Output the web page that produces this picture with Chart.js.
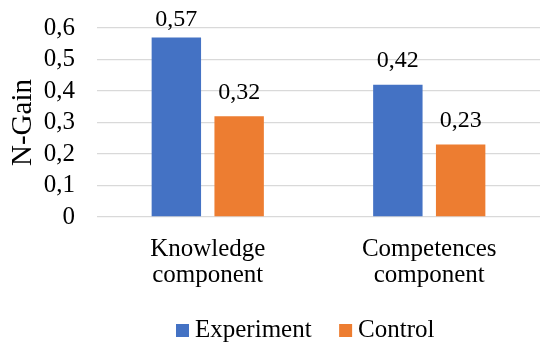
<!DOCTYPE html>
<html>
<head>
<meta charset="utf-8">
<script src="https://cdn.jsdelivr.net/npm/chart.js@4/dist/chart.umd.min.js"></script>
<style>
  html, body { margin: 0; padding: 0; background: #ffffff; }
  #wrap { width: 540px; height: 342px; }
</style>
</head>
<body>
<div id="wrap"><canvas id="c" width="540" height="342"></canvas></div>
<script>
// Categories and N-Gain values per group
const categories = [['Knowledge', 'component'], ['Competences', 'component']];
const seriesNames = ['Experiment', 'Control'];
const seriesColors = ['#4472C4', '#ED7D31'];
const experimentValues = [0.57, 0.42];
const controlValues = [0.32, 0.23];
const yTicks = [0, 0.1, 0.2, 0.3, 0.4, 0.5, 0.6];

const FONT = "'Liberation Serif', 'Times New Roman', serif";
const comma = v => String(Math.round(v * 100) / 100).replace('.', ',');

// Legend marker: a 13px square near the right end of a 40px transparent tile,
// so it sits just before the label text while items keep their spacing
function legendSquare(color) {
  const c = document.createElement('canvas');
  c.width = 40; c.height = 13;
  const g = c.getContext('2d');
  g.fillStyle = color;
  g.fillRect(26, 0, 13, 13);
  return c;
}

// Writes each bar's value above it, kept inside the top of the canvas
const valueLabels = {
  id: 'valueLabels',
  afterDatasetsDraw(chart) {
    const ctx = chart.ctx;
    ctx.save();
    ctx.font = '24px ' + FONT;
    ctx.fillStyle = '#000000';
    ctx.textAlign = 'center';
    ctx.textBaseline = 'alphabetic';
    chart.data.datasets.forEach((ds, i) => {
      chart.getDatasetMeta(i).data.forEach((bar, j) => {
        const y = Math.max(bar.y - 17.5, 26);
        ctx.fillText(comma(ds.data[j]), bar.x, y);
      });
    });
    ctx.restore();
  }
};

// Nudges the legend row right and down
const legendShift = {
  id: 'legendShift',
  afterLayout(chart) {
    const lg = chart.legend;
    if (lg) {
      lg.left += 23.5; lg.right += 23.5;
      lg.top += 11; lg.bottom += 11;
    }
  }
};

new Chart(document.getElementById('c'), {
  type: 'bar',
  data: {
    labels: categories,
    datasets: [
      { label: seriesNames[0], data: experimentValues, backgroundColor: seriesColors[0],
        pointStyle: legendSquare(seriesColors[0]),
        categoryPercentage: 0.567, barPercentage: 0.787 },
      { label: seriesNames[1], data: controlValues, backgroundColor: seriesColors[1],
        pointStyle: legendSquare(seriesColors[1]),
        categoryPercentage: 0.567, barPercentage: 0.787 }
    ]
  },
  options: {
    responsive: false,
    animation: false,
    devicePixelRatio: 1,
    layout: { padding: { top: 28, right: -5, bottom: 0, left: 0 } },
    plugins: {
      legend: {
        position: 'bottom',
        labels: {
          font: { family: FONT, size: 25 },
          color: '#000000',
          usePointStyle: true,
          boxWidth: 25,
          boxHeight: 13,
          padding: 9
        }
      },
      tooltip: { enabled: false },
      title: { display: false }
    },
    scales: {
      x: {
        grid: { display: false, drawTicks: false },
        border: { display: false },
        ticks: {
          font: { family: FONT, size: 25, lineHeight: 1.04 },
          color: '#000000',
          padding: 19,
          maxRotation: 0,
          autoSkip: false
        },
        afterFit(scale) { scale.height = 81; }
      },
      y: {
        min: 0,
        max: 0.6,
        afterBuildTicks(scale) { scale.ticks = yTicks.map(v => ({ value: v })); },
        grid: { color: '#d9d9d9', lineWidth: 1.3, drawTicks: false },
        border: { display: false },
        ticks: {
          font: { family: FONT, size: 25 },
          color: '#000000',
          padding: 22,
          autoSkip: false,
          callback: v => comma(v)
        },
        title: {
          display: true,
          text: 'N-Gain',
          font: { family: FONT, size: 29 },
          color: '#000000',
          padding: { top: 5.6, bottom: 0 }
        },
        afterFit(scale) {
          scale.width = 97;
          scale.paddingTop = 0;
          scale.paddingBottom = 0;
        }
      }
    }
  },
  plugins: [valueLabels, legendShift]
});
</script>
</body>
</html>
